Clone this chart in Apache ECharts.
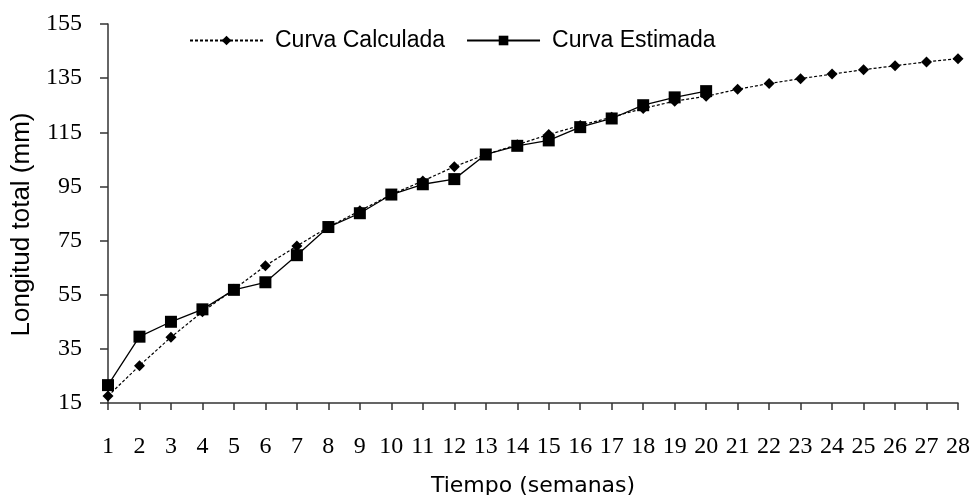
<!DOCTYPE html>
<html>
<head>
<meta charset="utf-8">
<script src="https://cdn.jsdelivr.net/npm/echarts@6/dist/echarts.min.js"></script>
<style>html,body{margin:0;padding:0;background:#fff}#c{width:971px;height:495px}</style>
</head>
<body>
<div id="c"></div>
<script>
const weeks = ['1','2','3','4','5','6','7','8','9','10','11','12','13','14','15','16','17','18','19','20','21','22','23','24','25','26','27','28'];
const calculada = [17.6,28.8,39.3,48.7,57.0,65.7,73.0,80.0,86.0,92.0,97.0,102.3,106.8,110.4,114.2,117.5,120.6,123.8,126.5,128.3,130.9,133.0,134.8,136.5,138.1,139.6,141.0,142.2];
const estimada = [21.6,39.5,45.0,49.6,56.8,59.6,69.6,80.0,85.1,92.0,95.8,97.7,106.8,110.0,112.0,116.9,120.1,125.0,127.9,130.2,null,null,null,null,null,null,null,null];
const yTicks = [15,35,55,75,95,115,135,155];

const chart = echarts.init(document.getElementById('c'));
chart.setOption({
  animation: false,
  backgroundColor: '#fff',
  grid: {left: 108, right: 13, top: 24, bottom: 92, containLabel: false, outerBoundsMode: 'none'},
  legend: {
    left: 189, top: 29, padding: 0,
    itemWidth: 73, itemHeight: 12, itemGap: 21,
    textStyle: {fontFamily: 'Liberation Sans', fontSize: 23, color: '#000', padding: [0,0,0,7]},
    data: ['Curva Calculada', 'Curva Estimada']
  },
  xAxis: {
    type: 'category', data: weeks, boundaryGap: false,
    name: 'Tiempo (semanas)', nameLocation: 'middle', nameGap: 72,
    nameTextStyle: {fontFamily: 'DejaVu Sans', fontSize: 22, color: '#000'},
    axisLine: {lineStyle: {color: '#333', width: 1.5}},
    axisTick: {show: true, inside: false, length: 7, lineStyle: {color: '#333', width: 1.5}, alignWithLabel: true},
    axisLabel: {fontFamily: 'Liberation Serif', fontSize: 24, color: '#000', margin: 32, interval: 0},
    splitLine: {show: false}
  },
  yAxis: {
    type: 'value', min: 15, max: 155, interval: 20,
    name: 'Longitud total (mm)', nameLocation: 'middle', nameGap: 70, nameRotate: 90,
    nameTextStyle: {fontFamily: 'Liberation Sans', fontSize: 26, color: '#000', padding: [0, 22, 0, 0]},
    axisLine: {show: true, lineStyle: {color: '#333', width: 1.5}},
    axisTick: {show: true, inside: false, length: 8, lineStyle: {color: '#333', width: 1.5}},
    axisLabel: {fontFamily: 'Liberation Serif', fontSize: 24, color: '#000', margin: 26,
      formatter: function(v){ return yTicks.indexOf(v) >= 0 ? String(v) : ''; }},
    splitLine: {show: false}
  },
  series: [
    {
      name: 'Curva Calculada', type: 'line', data: calculada,
      symbol: 'diamond', symbolSize: 11,
      lineStyle: {color: '#000', width: 1.2, type: [3,2]},
      itemStyle: {color: '#000'},
      z: 2
    },
    {
      name: 'Curva Estimada', type: 'line', data: estimada,
      symbol: 'rect', symbolSize: 12,
      lineStyle: {color: '#000', width: 1.3, type: 'solid'},
      itemStyle: {color: '#000'},
      connectNulls: false,
      z: 3
    }
  ]
});
</script>
</body>
</html>
